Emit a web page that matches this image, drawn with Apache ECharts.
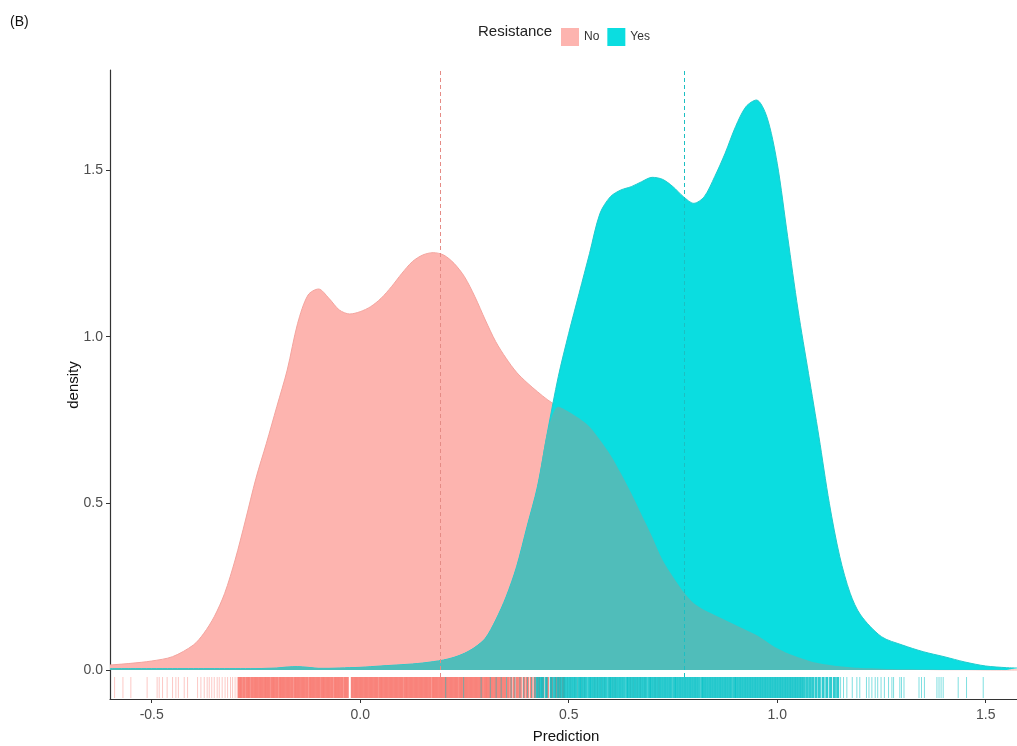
<!DOCTYPE html>
<html>
<head>
<meta charset="utf-8">
<title>Resistance density</title>
<script src="https://cdn.jsdelivr.net/npm/echarts@6/dist/echarts.min.js"></script>
<style>
body { margin: 0; padding: 0; background: #fff; }
#chart { width: 1017px; height: 746px; }
</style>
</head>
<body>
<div id="chart"></div>
<script>
// prediction values where the densities are read
const xGrid = [
  -0.6, -0.55, -0.5, -0.45, -0.4, -0.375, -0.35, -0.325, -0.3, -0.275,
  -0.25, -0.225, -0.2, -0.175, -0.15, -0.125, -0.1, -0.075, -0.05, -0.025,
  0, 0.025, 0.05, 0.075, 0.1, 0.125, 0.15, 0.175, 0.2, 0.225,
  0.25, 0.275, 0.3, 0.325, 0.35, 0.375, 0.4, 0.425, 0.45, 0.475,
  0.5, 0.525, 0.55, 0.575, 0.6, 0.625, 0.65, 0.675, 0.7, 0.725,
  0.75, 0.775, 0.8, 0.825, 0.85, 0.875, 0.9, 0.925, 0.95, 0.975,
  1.0, 1.025, 1.05, 1.075, 1.1, 1.125, 1.15, 1.175, 1.2, 1.25,
  1.3, 1.35, 1.4, 1.45, 1.5, 1.55, 1.575
];
// Resistance = No
const noDensity = [
  0.015, 0.02, 0.027, 0.04, 0.075, 0.11, 0.16, 0.23, 0.33, 0.45,
  0.575, 0.68, 0.79, 0.9, 1.04, 1.125, 1.143, 1.115, 1.08, 1.068,
  1.075, 1.09, 1.115, 1.15, 1.19, 1.225, 1.245, 1.252, 1.245, 1.22,
  1.18, 1.12, 1.05, 0.985, 0.935, 0.893, 0.862, 0.835, 0.81, 0.79,
  0.775, 0.755, 0.73, 0.69, 0.645, 0.59, 0.53, 0.465, 0.4, 0.33,
  0.28, 0.235, 0.2, 0.18, 0.165, 0.15, 0.135, 0.12, 0.105, 0.085,
  0.065, 0.05, 0.038, 0.028, 0.02, 0.015, 0.011, 0.008, 0.006, 0.004,
  0.002, 0.0015, 0.001, 0.001, 0.0005, 0.0003, 0.0002
];
// Resistance = Yes
const yesDensity = [
  0.004, 0.004, 0.004, 0.004, 0.004, 0.004, 0.004, 0.004, 0.004, 0.004,
  0.004, 0.005, 0.006, 0.009, 0.01, 0.008, 0.005, 0.005, 0.006, 0.007,
  0.008, 0.01, 0.012, 0.014, 0.016, 0.018, 0.021, 0.025, 0.03, 0.038,
  0.05, 0.068, 0.095, 0.15, 0.22, 0.31, 0.43, 0.55, 0.72, 0.88,
  1.01, 1.13, 1.25, 1.37, 1.42, 1.44, 1.45, 1.465, 1.478, 1.472,
  1.45, 1.42, 1.4, 1.42, 1.48, 1.55, 1.63, 1.69, 1.71, 1.66,
  1.52, 1.3, 1.08, 0.89, 0.7, 0.5, 0.34, 0.23, 0.165, 0.1,
  0.075, 0.055, 0.04, 0.024, 0.012, 0.007, 0.006
];

const noMean = 0.193;
const yesMean = 0.778;

// rug marks (single predictions)
const noRugSparse = [
  -0.589, -0.569, -0.55, -0.511, -0.487, -0.482, -0.474, -0.463, -0.45, -0.442,
  -0.436, -0.422, -0.414, -0.39, -0.382, -0.374, -0.367, -0.362, -0.356, -0.35,
  -0.343, -0.338, -0.331, -0.324, -0.318, -0.311, -0.306, -0.3, -0.295,
  0.497, 0.505, 0.514, 0.521, 0.531, 0.538, 0.561, 0.569, 0.578, 0.586,
  0.597, 0.606, 0.613, 0.648, 0.655, 0.664, 0.672, 0.683, 0.695, 0.707, 0.716
];
const noRugDense = [
  -0.29, -0.285, -0.278, -0.271, -0.266, -0.259, -0.253, -0.247, -0.241, -0.235,
  -0.229, -0.224, -0.218, -0.211, -0.206, -0.2, -0.193, -0.188, -0.182, -0.176,
  -0.17, -0.164, -0.157, -0.152, -0.146, -0.14, -0.134, -0.128, -0.121, -0.116,
  -0.11, -0.104, -0.098, -0.091, -0.086, -0.08, -0.074, -0.068, -0.061, -0.056,
  -0.05, -0.044, -0.037, -0.031, -0.019, -0.013, -0.007, -0.001, 0.005, 0.011,
  0.017, 0.023, 0.029, 0.035, 0.041, 0.048, 0.053, 0.059, 0.065, 0.071,
  0.077, 0.083, 0.089, 0.095, 0.101, 0.108, 0.113, 0.119, 0.125, 0.131,
  0.137, 0.143, 0.149, 0.155, 0.161, 0.167, 0.174, 0.179, 0.185, 0.191,
  0.197, 0.203, 0.209, 0.215, 0.221, 0.227, 0.233, 0.24, 0.245, 0.251,
  0.257, 0.263, 0.269, 0.275, 0.281, 0.287, 0.293, 0.3, 0.305, 0.311,
  0.317, 0.323, 0.329, 0.335, 0.341, 0.347, 0.354, 0.361, 0.369, 0.377,
  0.384, 0.393, 0.401, 0.41, 0.419, 0.428, 0.438, 0.449, 0.459, 0.47,
  0.478, 0.487
];
const yesRugSparse = [
  0.205, 0.248, 0.29, 0.312, 0.326, 0.338, 0.351, 0.362, 0.371, 0.383,
  0.392, 0.401, 0.411, 0.418,
  1.152, 1.159, 1.167, 1.18, 1.191, 1.198, 1.214, 1.22, 1.227, 1.235,
  1.241, 1.249, 1.257, 1.267, 1.275, 1.279, 1.294, 1.298, 1.304, 1.34,
  1.346, 1.353, 1.383, 1.388, 1.393, 1.398, 1.434, 1.454, 1.494
];
const yesRugDense = [
  0.424, 0.431, 0.437, 0.446, 0.458, 0.466, 0.474, 0.481, 0.488, 0.494,
  0.5, 0.506, 0.512, 0.518, 0.525, 0.53, 0.536, 0.542, 0.549, 0.554,
  0.56, 0.566, 0.572, 0.578, 0.584, 0.59, 0.597, 0.602, 0.608, 0.614,
  0.62, 0.626, 0.632, 0.639, 0.644, 0.65, 0.656, 0.662, 0.668, 0.674,
  0.68, 0.686, 0.693, 0.698, 0.704, 0.71, 0.716, 0.722, 0.728, 0.734,
  0.74, 0.746, 0.753, 0.758, 0.764, 0.77, 0.776, 0.782, 0.788, 0.794,
  0.8, 0.806, 0.812, 0.819, 0.824, 0.83, 0.836, 0.842, 0.848, 0.854,
  0.86, 0.866, 0.872, 0.878, 0.884, 0.89, 0.897, 0.902, 0.908, 0.914,
  0.92, 0.926, 0.932, 0.938, 0.944, 0.95, 0.956, 0.962, 0.968, 0.974,
  0.98, 0.986, 0.992, 0.998, 1.004, 1.01, 1.016, 1.022, 1.028, 1.034,
  1.04, 1.046, 1.052, 1.058, 1.064, 1.071, 1.078, 1.085, 1.093, 1.101,
  1.11, 1.119, 1.128, 1.137, 1.145
];

const xTicks = [-0.5, 0, 0.5, 1, 1.5];
const yTicks = [0, 0.5, 1, 1.5];

const FONT = "'Liberation Sans', Arial, sans-serif";
const RUG_TOP = -0.021;
const RUG_BOTTOM = -0.084;

function pairs(values) {
  return xGrid.map((x, i) => [x, values[i]]);
}

// overlap of both densities, drawn in the mixed colour
const overlap = xGrid.map((x, i) => [x, Math.min(noDensity[i], yesDensity[i])]);

function rugSeries(name, values, color, opacity, width, z) {
  return {
    name: name,
    type: 'custom',
    z: z,
    silent: true,
    data: values.map(v => [v, -0.05]),
    renderItem: function (params, api) {
      const p1 = api.coord([api.value(0), RUG_TOP]);
      const p2 = api.coord([api.value(0), RUG_BOTTOM]);
      return {
        type: 'line',
        shape: { x1: p1[0], y1: p1[1], x2: p2[0], y2: p2[1] },
        style: { stroke: color, lineWidth: width, opacity: opacity }
      };
    }
  };
}

let chart = echarts.init(document.getElementById('chart'));

let option = {
  animation: false,
  backgroundColor: '#ffffff',
  textStyle: { fontFamily: FONT },
  grid: { left: 110, right: 0, top: 70, bottom: 47 },
  legend: {
    data: ['No', 'Yes'],
    left: 556,
    top: 23,
    icon: 'rect',
    itemWidth: 18,
    itemHeight: 18,
    itemGap: 8,
    textStyle: { fontSize: 12, color: '#333', fontFamily: FONT }
  },
  graphic: [
    { type: 'text', left: 10, top: 15, style: { text: '(B)', fontSize: 14, fill: '#111', fontFamily: FONT } },
    { type: 'text', left: 478, top: 24, style: { text: 'Resistance', fontSize: 15, fill: '#222', fontFamily: FONT } },
    { type: 'text', x: 74, y: 385, rotation: Math.PI / 2,
      style: { text: 'density', fontSize: 15, fill: '#111', fontFamily: FONT, align: 'center', verticalAlign: 'middle' } },
    { type: 'text', x: 566, y: 737,
      style: { text: 'Prediction', fontSize: 15, fill: '#111', fontFamily: FONT, align: 'center', verticalAlign: 'middle' } }
  ],
  xAxis: {
    type: 'value',
    min: -0.6,
    max: 1.575,
    axisLine: { onZero: false, lineStyle: { color: '#333', width: 1.2 } },
    axisTick: { customValues: xTicks, length: 4, lineStyle: { color: '#333' } },
    axisLabel: {
      customValues: xTicks,
      formatter: v => v.toFixed(1),
      fontSize: 14,
      color: '#4d4d4d',
      margin: 9
    },
    splitLine: { show: false }
  },
  yAxis: {
    type: 'value',
    min: -0.087,
    max: 1.8,
    axisLine: { show: true, onZero: false, lineStyle: { color: '#333', width: 1.2 } },
    axisTick: { show: true, customValues: yTicks, length: 4, lineStyle: { color: '#333' } },
    axisLabel: {
      customValues: yTicks,
      formatter: v => v.toFixed(1),
      fontSize: 14,
      color: '#4d4d4d',
      margin: 7
    },
    splitLine: { show: false }
  },
  series: [
    {
      name: 'No',
      type: 'line',
      z: 2,
      data: pairs(noDensity),
      smooth: 0.3,
      showSymbol: false,
      symbol: 'none',
      color: '#fdb4af',
      itemStyle: { color: '#fdb4af' },
      lineStyle: { color: '#f3a49e', width: 1 },
      areaStyle: { color: '#fdb4af', opacity: 1 }
    },
    {
      name: 'Yes',
      type: 'line',
      z: 3,
      data: pairs(yesDensity),
      smooth: 0.3,
      showSymbol: false,
      symbol: 'none',
      color: '#0bdde0',
      itemStyle: { color: '#0bdde0' },
      lineStyle: { color: '#20cbcd', width: 1 },
      areaStyle: { color: '#0bdde0', opacity: 1 }
    },
    {
      name: 'overlap',
      type: 'line',
      z: 4,
      data: overlap,
      smooth: 0.3,
      showSymbol: false,
      symbol: 'none',
      lineStyle: { width: 0 },
      areaStyle: { color: '#50bdba', opacity: 1 },
      markLine: {
        silent: true,
        symbol: ['none', 'none'],
        label: { show: false },
        data: [
          [{ coord: [noMean, RUG_TOP], lineStyle: { color: '#e58b85', type: [4, 3], width: 1 } },
           { coord: [noMean, 1.8] }],
          [{ coord: [yesMean, RUG_TOP], lineStyle: { color: '#1cbfc2', type: [4, 3], width: 1 } },
           { coord: [yesMean, 1.8] }]
        ]
      }
    },
    rugSeries('noRugSparse', noRugSparse, '#f8766d', 0.4, 1, 6),
    rugSeries('noRugDense', noRugDense, '#f97d75', 0.95, 3, 6),
    rugSeries('yesRugSparse', yesRugSparse, '#00bfc4', 0.5, 1, 7),
    rugSeries('yesRugDense', yesRugDense, '#00bfc4', 0.82, 3, 7)
  ]
};

chart.setOption(option);
</script>
</body>
</html>
